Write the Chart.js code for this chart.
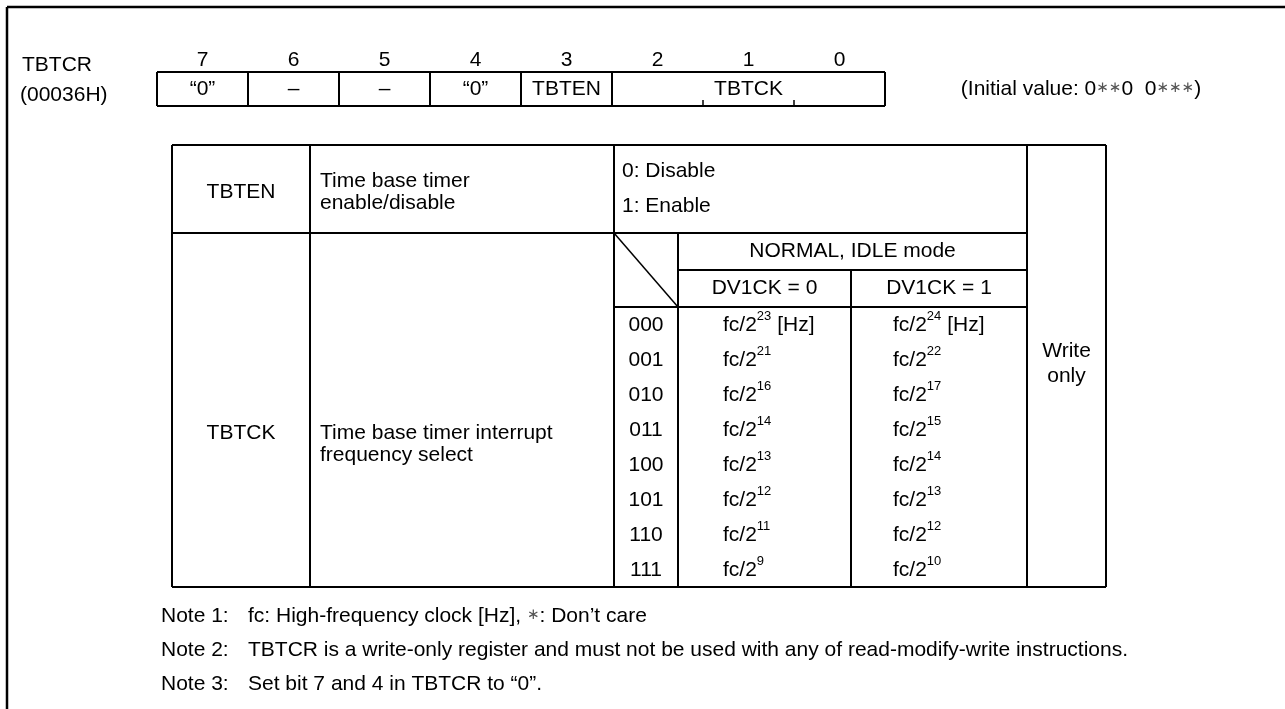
<!DOCTYPE html>
<html>
<head>
<meta charset="utf-8">
<script src="https://cdn.jsdelivr.net/npm/chart.js@4.4.1/dist/chart.umd.min.js"></script>
<style>
  html, body { margin: 0; padding: 0; background: #fff; }
  canvas { display: block; }
</style>
</head>
<body>
<canvas id="reg" width="1285" height="709"></canvas>
<script>
// register layout: TBTCR (00036H)
var REG_NAME = "TBTCR";
var REG_ADDR = "(00036H)";
var BITS = ["7", "6", "5", "4", "3", "2", "1", "0"];
var FIELD_NAMES = ["\u201c0\u201d", "\u2013", "\u2013", "\u201c0\u201d", "TBTEN", "TBTCK"];
var FIELD_SPANS = [1, 1, 1, 1, 1, 3];
// "*" runs are drawn with a smaller star glyph
var INITIAL = ["(Initial value: 0", "**", "0  0", "***", ")"];

// description table
var TBTEN_DESC = ["Time base timer", "enable/disable"];
var TBTEN_VALUES = ["0: Disable", "1: Enable"];
var TBTCK_DESC = ["Time base timer interrupt", "frequency select"];
var MODE_HEADER = "NORMAL, IDLE mode";
var DIV_HEADERS = ["DV1CK = 0", "DV1CK = 1"];
var CODES = ["000", "001", "010", "011", "100", "101", "110", "111"];
var EXP_DV0 = [23, 21, 16, 14, 13, 12, 11, 9];
var EXP_DV1 = [24, 22, 17, 15, 14, 13, 12, 10];
var ACCESS = ["Write", "only"];

var NOTE_LABELS = ["Note 1:", "Note 2:", "Note 3:"];
var NOTES = [
  ["fc: High-frequency clock [Hz], ", "*", ": Don\u2019t care"],
  ["TBTCR is a write-only register and must not be used with any of read-modify-write instructions."],
  ["Set bit 7 and 4 in TBTCR to \u201c0\u201d."]
];

var FONT = "'Liberation Sans', Arial, sans-serif";
var FS = 21;

(function () {
  "use strict";

  // geometry in the scale's own units (one unit per page pixel)
  var REG = { x0: 157, cell: 91, top: 72, bottom: 106, bitY: 60 };
  var TBL = { cols: [172, 310, 614, 678, 851, 1027, 1106], top: 145, row1: 233, hdr1: 270, hdr2: 307, rowH: 35 };

  var sheet = {
    id: "sheet",
    afterDraw: function (chart) {
      var c = chart.ctx, xs = chart.scales.x, ys = chart.scales.y;
      function X(v) { return xs.getPixelForValue(v); }
      function Y(v) { return ys.getPixelForValue(v); }
      function line(x1, y1, x2, y2, w) {
        c.beginPath(); c.lineWidth = w || 2;
        c.moveTo(X(x1), Y(y1)); c.lineTo(X(x2), Y(y2)); c.stroke();
      }
      function text(s, x, y, align, size) {
        c.font = (size || FS) + "px " + FONT;
        c.textAlign = align || "left";
        c.textBaseline = "middle";
        c.fillText(s, X(x), Y(y));
      }
      // runs of text where "*" runs use a small centred star
      function runs(parts, x, y, align) {
        c.textBaseline = "middle"; c.textAlign = "left";
        function isStar(p) { return /^\*+$/.test(p); }
        function font(p) { return isStar(p) ? "15px 'DejaVu Sans', sans-serif" : FS + "px " + FONT; }
        function str(p) { return isStar(p) ? p.replace(/\*/g, "\u2217") : p; }
        var total = 0;
        parts.forEach(function (p) { c.font = font(p); total += c.measureText(str(p)).width; });
        var px = X(x) - (align === "center" ? total / 2 : 0), py = Y(y);
        parts.forEach(function (p) {
          c.font = font(p);
          c.fillStyle = isStar(p) ? "#555" : "#000";
          c.fillText(str(p), px, isStar(p) ? py - 1 : py);
          px += c.measureText(str(p)).width;
        });
        c.fillStyle = "#000";
      }
      // fc/2^n with superscript
      function power(x, y, n, tail) {
        c.textBaseline = "middle"; c.textAlign = "left";
        c.font = FS + "px " + FONT;
        var px = X(x), py = Y(y);
        c.fillText("fc/2", px, py);
        px += c.measureText("fc/2").width;
        c.font = "13px " + FONT;
        c.fillText(String(n), px, py - 9);
        px += c.measureText(String(n)).width;
        if (tail) { c.font = FS + "px " + FONT; c.fillText(tail, px, py); }
      }

      c.save();
      c.strokeStyle = "#000"; c.fillStyle = "#000";

      // outer frame (only top/left visible)
      line(7, 7, 1285, 7, 2.5);
      line(7, 7, 7, 709, 2.5);

      // register row
      var mid = (REG.top + REG.bottom) / 2;
      text(REG_NAME, 22, 65);
      text(REG_ADDR, 20, 95);
      BITS.forEach(function (b, i) { text(b, REG.x0 + REG.cell * (i + 0.5), REG.bitY, "center"); });
      var end = REG.x0 + REG.cell * BITS.length;
      line(REG.x0, REG.top, end, REG.top);
      line(REG.x0, REG.bottom, end, REG.bottom);
      var pos = 0;
      line(REG.x0, REG.top, REG.x0, REG.bottom);
      FIELD_NAMES.forEach(function (f, i) {
        var a = REG.x0 + REG.cell * pos, b = a + REG.cell * FIELD_SPANS[i];
        text(f, (a + b) / 2, mid, "center");
        line(b, REG.top, b, REG.bottom);
        for (var k = 1; k < FIELD_SPANS[i]; k++) line(a + REG.cell * k, REG.bottom - 6, a + REG.cell * k, REG.bottom, 1.5);
        pos += FIELD_SPANS[i];
      });
      runs(INITIAL, 1081, mid, "center");

      // description table
      var C = TBL.cols, bottom = TBL.hdr2 + TBL.rowH * CODES.length;
      line(C[0], TBL.top, C[6], TBL.top);
      line(C[0], bottom, C[6], bottom);
      line(C[0], TBL.row1, C[5], TBL.row1);
      line(C[3], TBL.hdr1, C[5], TBL.hdr1);
      line(C[2], TBL.hdr2, C[5], TBL.hdr2);
      line(C[0], TBL.top, C[0], bottom);
      line(C[1], TBL.top, C[1], bottom);
      line(C[2], TBL.top, C[2], bottom);
      line(C[5], TBL.top, C[5], bottom);
      line(C[6], TBL.top, C[6], bottom);
      line(C[3], TBL.row1, C[3], bottom);
      line(C[4], TBL.hdr1, C[4], bottom);
      line(C[2], TBL.row1, C[3], TBL.hdr2, 1.5);

      text("TBTEN", (C[0] + C[1]) / 2, 192, "center");
      text(TBTEN_DESC[0], C[1] + 10, 181);
      text(TBTEN_DESC[1], C[1] + 10, 203);
      text(TBTEN_VALUES[0], C[2] + 8, 171);
      text(TBTEN_VALUES[1], C[2] + 8, 206);

      text("TBTCK", (C[0] + C[1]) / 2, 433, "center");
      text(TBTCK_DESC[0], C[1] + 10, 433);
      text(TBTCK_DESC[1], C[1] + 10, 455);
      text(MODE_HEADER, (C[3] + C[5]) / 2, (TBL.row1 + TBL.hdr1) / 2, "center");
      text(DIV_HEADERS[0], (C[3] + C[4]) / 2, (TBL.hdr1 + TBL.hdr2) / 2, "center");
      text(DIV_HEADERS[1], (C[4] + C[5]) / 2, (TBL.hdr1 + TBL.hdr2) / 2, "center");

      CODES.forEach(function (code, i) {
        var y = TBL.hdr2 + TBL.rowH * (i + 0.5) + 1;
        text(code, (C[2] + C[3]) / 2, y, "center");
        power(C[3] + 45, y, EXP_DV0[i], i === 0 ? " [Hz]" : "");
        power(C[4] + 42, y, EXP_DV1[i], i === 0 ? " [Hz]" : "");
      });
      text(ACCESS[0], (C[5] + C[6]) / 2, 351, "center");
      text(ACCESS[1], (C[5] + C[6]) / 2, 376, "center");

      // notes
      NOTES.forEach(function (n, i) {
        var y = 616 + 34 * i;
        text(NOTE_LABELS[i], 161, y);
        runs(n, 248, y);
      });
      c.restore();
    }
  };

  new Chart(document.getElementById("reg"), {
    type: "scatter",
    data: { datasets: [{ data: [{ x: 0, y: 0 }], pointRadius: 0 }] },
    options: {
      responsive: false, animation: false, events: [],
      layout: { padding: 0 },
      plugins: { legend: { display: false }, tooltip: { enabled: false } },
      scales: {
        x: { type: "linear", min: 0, max: 1285, display: false },
        y: { type: "linear", min: 0, max: 709, reverse: true, display: false }
      }
    },
    plugins: [sheet]
  });
})();
</script>
</body>
</html>
